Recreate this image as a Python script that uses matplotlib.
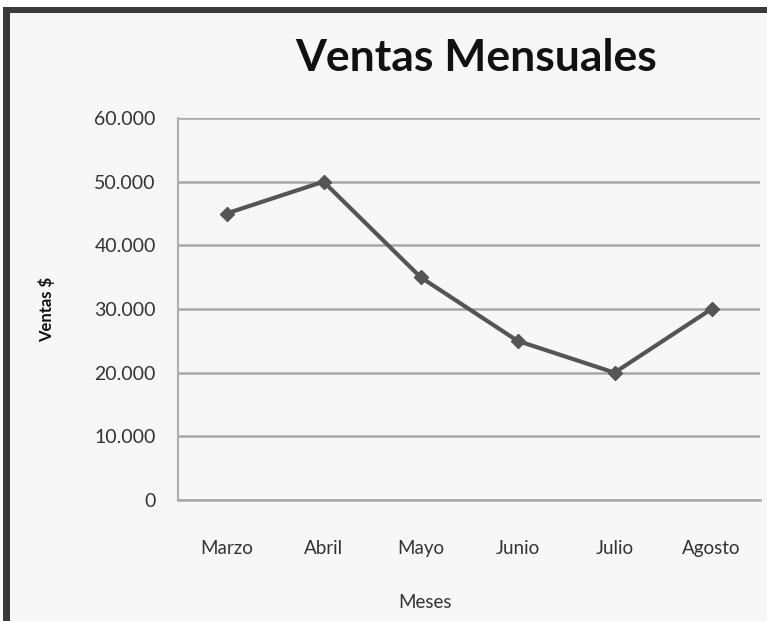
import matplotlib
matplotlib.use("Agg")
import matplotlib.pyplot as plt
from matplotlib.patches import Rectangle

months = ["Marzo", "Abril", "Mayo", "Junio", "Julio", "Agosto"]
sales = [45000, 50000, 35000, 25000, 20000, 30000]
yticks = [0, 10000, 20000, 30000, 40000, 50000, 60000]
ytick_labels = ["0", "10.000", "20.000", "30.000", "40.000", "50.000", "60.000"]

plt.rcParams['font.family'] = ['Lato', 'DejaVu Sans']

W, H = 767, 621
fig = plt.figure(figsize=(W / 100, H / 100), dpi=100)
fig.patch.set_facecolor('white')

# chart area background and dark frame (top and left edges visible)
fig.patches.append(Rectangle((3 / W, 0), 1, (H - 7) / H, transform=fig.transFigure,
                             facecolor='#f7f7f7', edgecolor='none', zorder=-2))
fig.patches.append(Rectangle((3 / W, 0), 7 / W, (H - 7) / H, transform=fig.transFigure,
                             facecolor='#3a3a3a', edgecolor='none', zorder=-1))
fig.patches.append(Rectangle((3 / W, (H - 13) / H), 1, 6 / H, transform=fig.transFigure,
                             facecolor='#3a3a3a', edgecolor='none', zorder=-1))

ax = fig.add_axes([178 / W, (H - 500) / H, (760 - 178) / W, (500 - 118) / H])
ax.set_zorder(2)
ax.set_facecolor('#f7f7f7')

x = list(range(len(months)))
ax.plot(x, sales, color='#555555', linewidth=3, marker='D', markersize=7,
        markerfacecolor='#555555', markeredgecolor='#555555', zorder=3)

ax.set_xlim(-0.5, len(months) - 0.5)
ax.set_ylim(0, 60000)
ax.set_yticks(yticks)
ax.set_yticklabels(ytick_labels)
ax.set_xticks(x)
ax.set_xticklabels(months)

ax.yaxis.grid(True, color='#a8a8a8', linewidth=1.8)
ax.set_axisbelow(True)
for s in ['top', 'right']:
    ax.spines[s].set_visible(False)
ax.spines['left'].set_color('#b0b0b0')
ax.spines['left'].set_linewidth(1.5)
ax.spines['bottom'].set_color('#a8a8a8')
ax.spines['bottom'].set_linewidth(1.8)

ax.tick_params(axis='y', length=0, pad=16, labelsize=14, labelcolor='#333333')
ax.tick_params(axis='x', length=0, pad=29, labelsize=13.5, labelcolor='#333333')

ax.set_ylabel("Ventas $", fontsize=12, fontweight='bold', color='#111111', labelpad=28)

fig.text(425 / W, 1 - 603 / H, "Meses", ha='center', va='center',
         fontsize=13.5, color='#333333')
fig.text(476 / W, 1 - 58 / H, "Ventas Mensuales", ha='center', va='center',
         fontsize=32, fontweight='bold', color='#111111', zorder=3)

fig.savefig("out.png", dpi=100, facecolor=fig.get_facecolor())
